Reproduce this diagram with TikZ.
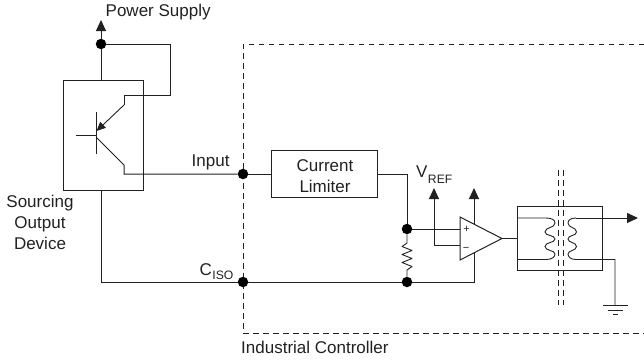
\documentclass[tikz,border=0pt]{standalone}
\usepackage{fontspec}
\setmainfont{Liberation Sans}
\usetikzlibrary{arrows.meta}
\definecolor{ink}{gray}{0.13}
\tikzset{
  wire/.style={draw=ink,line width=1bp,line join=miter},
  thin wire/.style={draw=ink,line width=0.9bp},
  boxed/.style={draw=ink,line width=1bp,fill=none,inner sep=0pt,align=center},
  dot/.style={circle,fill=black,draw=none,minimum size=10.5bp,inner sep=0pt},
  tipped/.style={wire,-{Triangle[length=11bp,width=10bp]}},
  sharp/.style={dash pattern=on 5.5bp off 4.5bp,draw=ink,line width=0.8bp},
  label/.style={font=\fontsize{17bp}{21bp}\selectfont,inner sep=0pt,text=ink,anchor=base west},
  sub/.style={font=\fontsize{12.2bp}{14bp}\selectfont,inner sep=0pt,text=ink,anchor=base west}
}
\begin{document}
\begin{tikzpicture}[x=1bp,y=-1bp]
\useasboundingbox (0,0) rectangle (644,359);
% boundary of controller
\coordinate (ctlA) at (644,44); \coordinate (ctlB) at (243,44);
\coordinate (ctlC) at (243,333); \coordinate (ctlD) at (644,333);
\draw[sharp] (ctlA) -- (ctlB) -- (ctlC) -- (ctlD);
% isolation barrier
\coordinate (isoAt) at (558,170); \coordinate (isoAb) at (558,305);
\coordinate (isoBt) at (563.5,170); \coordinate (isoBb) at (563.5,305);
\draw[sharp] (isoAt) -- (isoAb);
\draw[sharp] (isoBt) -- (isoBb);
% main blocks
\node[boxed,minimum width=80bp,minimum height=110bp] (device) at (103.7,135) {};
\node[boxed,minimum width=106bp,minimum height=47bp] (limiter) at (324.7,174) {};
\node[boxed,minimum width=85bp,minimum height=64bp] (opto) at (560.2,238) {};
% junctions
\node[dot] (jtop) at (101,44) {};
\node[dot] (jin) at (243,174) {};
\node[dot] (jiso) at (243,282) {};
\node[dot] (jplus) at (407,229) {};
\node[dot] (jlow) at (407,282) {};
% supply
\coordinate (supply) at (101,20);
\coordinate (devTop) at (101,80);
\coordinate (devBot) at (101,190);
\coordinate (cornerIso) at (101,282);
\draw[wire] (devTop) -- (jtop);
\draw[tipped] (jtop) -- (supply);
\draw[wire] (devBot) -- (cornerIso) -- (jiso) -- (jlow);
% transistor
\coordinate (barT) at (96,112); \coordinate (barB) at (96,154);
\coordinate (baseL) at (76,135); \coordinate (baseR) at (96,135);
\coordinate (colA) at (170,44); \coordinate (colB) at (170,95);
\coordinate (colC) at (124,95); \coordinate (colD) at (124,105);
\coordinate (emA) at (96.5,131); \coordinate (emB) at (96,137);
\coordinate (emC) at (124,165); \coordinate (emD) at (124,174);
\draw[thin wire] (barT) -- (barB);
\draw[thin wire] (baseL) -- (baseR);
\draw[wire] (jtop) -- (colA) -- (colB) -- (colC) -- (colD);
\draw[thin wire,-{Triangle[length=9bp,width=8bp]}] (colD) -- (emA);
\draw[wire] (emB) -- (emC) -- (emD) -- (jin);
% input to limiter
\coordinate (limOut) at (407,174);
\draw[wire] (jin) -- (limiter.west);
\draw[wire] (limiter.east) -- (limOut) -- (jplus);
% resistor
\coordinate (rT) at (407,243); \coordinate (rB) at (407,270);
\draw[thin wire,line join=round] (jplus) -- (rT) -- ++(-5,3.5) -- ++(10,4) -- ++(-10,4) -- ++(10,4) -- ++(-10,4) -- ++(10,4) -- (rB) -- (jlow);
% op amp
\coordinate (opTL) at (460,217); \coordinate (opBL) at (460,260); \coordinate (opTip) at (502,238.5);
\coordinate (opPlus) at (460,229); \coordinate (opMinus) at (460,245.5);
\coordinate (vrefBend) at (434,245.5); \coordinate (vrefTop) at (434,188);
\coordinate (railT) at (474,188); \coordinate (railTa) at (474,224);
\coordinate (railB) at (474,253); \coordinate (railBc) at (474,282);
\draw[wire] (jlow) -- (railBc) -- (railB);
\draw[tipped] (railTa) -- (railT);
\draw[tipped] (opMinus) -- (vrefBend) -- (vrefTop);
\draw[wire] (jplus) -- (opPlus);
\draw[wire,fill=white,line join=miter] (opTL) -- (opTip) -- (opBL) -- cycle;
\node[label,font=\fontsize{11bp}{12bp}\selectfont,anchor=center] (plus) at (466.5,229) {+};
\node[label,font=\fontsize{11bp}{12bp}\selectfont,anchor=center] (minus) at (466,249) {\textminus};
\draw[wire] (opTip) -- (opto.west |- opTip);
% optocoupler windings
\coordinate (pT) at (518,218); \coordinate (pTi) at (546,218);
\coordinate (pB) at (518,259.5); \coordinate (pBi) at (546,259.5);
\coordinate (sT) at (576,218); \coordinate (sB) at (576,259.5);
\coordinate (outEnd) at (638,218);
\coordinate (gndTop) at (615,259.5); \coordinate (gndA) at (615,305);
\draw[thin wire] (pT) -- (pTi) .. controls (552,218) and (555,220) .. (555,223) .. controls (555,228) and (545,227) .. (545,232) .. controls (545,236) and (555,235) .. (555,239) .. controls (555,243) and (545,242) .. (545,246.5) .. controls (545,251) and (555,250) .. (555,254) .. controls (555,257) and (552,259.5) .. (pBi) -- (pB);
\draw[thin wire] (sT) .. controls (571,218) and (568,220) .. (568,223) .. controls (568,228) and (576.5,227) .. (576.5,232) .. controls (576.5,236) and (568,235) .. (568,239) .. controls (568,243) and (576.5,242) .. (576.5,246.5) .. controls (576.5,251) and (568,250) .. (568,254) .. controls (568,257) and (571,259.5) .. (sB) -- (gndTop) -- (gndA);
\draw[tipped] (sT) -- (outEnd);
% ground
\coordinate (g1a) at (603,305); \coordinate (g1b) at (628,305);
\coordinate (g2a) at (608,310); \coordinate (g2b) at (623,310);
\coordinate (g3a) at (613,314.5); \coordinate (g3b) at (618,314.5);
\draw[thin wire] (g1a) -- (g1b);
\draw[thin wire] (g2a) -- (g2b);
\draw[thin wire] (g3a) -- (g3b);
% texts
\node[label] (tPower) at (105.5,16) {Power Supply};
\node[label] (tInput) at (191.5,166) {Input};
\node[label,anchor=base] (tS1) at (40,207) {Sourcing};
\node[label,anchor=base] (tS2) at (40,228) {Output};
\node[label,anchor=base] (tS3) at (40,249) {Device};
\node[label,anchor=base] (tL1) at (325,171) {Current};
\node[label,anchor=base] (tL2) at (325,192) {Limiter};
\node[label] (tC) at (199.5,275) {C};
\node[sub,yshift=-4bp] (tCs) at (tC.base east) {ISO};
\node[label] (tV) at (416,177) {V};
\node[sub,yshift=-6bp] (tVs) at (tV.base east) {REF};
\node[label] (tInd) at (241,353) {Industrial Controller};
\end{tikzpicture}
\end{document}
